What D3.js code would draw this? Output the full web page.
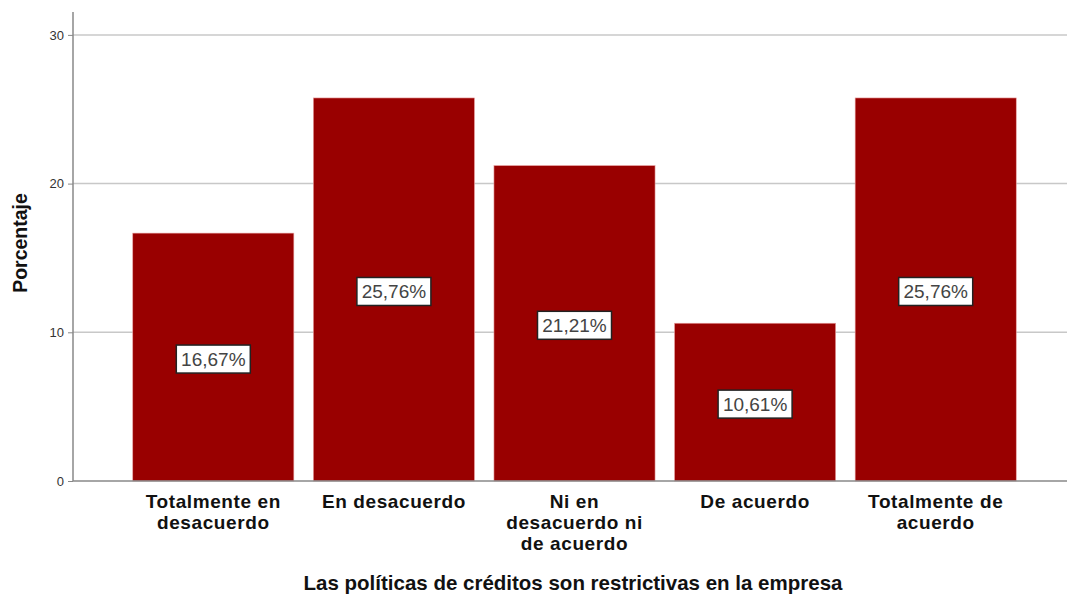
<!DOCTYPE html>
<html>
<head>
<meta charset="utf-8">
<script src="https://cdn.jsdelivr.net/npm/d3@7"></script>
<style>
  html, body { margin: 0; padding: 0; background: #fff; }
  svg { display: block; font-family: "Liberation Sans", Arial, sans-serif; }
</style>
</head>
<body>
<svg id="chart" width="1067" height="596"></svg>
<script>
// Response categories (each entry holds the wrapped lines of the label)
const categories = [
  ["Totalmente en", "desacuerdo"],
  ["En desacuerdo"],
  ["Ni en", "desacuerdo ni", "de acuerdo"],
  ["De acuerdo"],
  ["Totalmente de", "acuerdo"]
];
const percentages = [16.67, 25.76, 21.21, 10.61, 25.76];
const yTicks = [0, 10, 20, 30];
const yTitle = "Porcentaje";
const xTitle = "Las políticas de créditos son restrictivas en la empresa";

const svg = d3.select("#chart");
const plotLeft = 73, plotRight = 1067, plotTop = 12, plotBottom = 481;

const keys = categories.map(c => c.join(" "));
const x = d3.scaleBand()
  .domain(keys)
  .range([123, 1026])
  .paddingInner(0.108)
  .paddingOuter(0.054);

const y = d3.scaleLinear().domain([0, 30]).range([plotBottom, plotBottom - 30 * 14.87]);

// Grid lines
svg.append("g")
  .selectAll("line")
  .data(yTicks.filter(t => t > 0))
  .join("line")
  .attr("x1", plotLeft).attr("x2", plotRight)
  .attr("y1", d => y(d)).attr("y2", d => y(d))
  .attr("stroke", "#c8c8c8").attr("stroke-width", 1.5);

// Y axis
const yAxis = svg.append("g")
  .attr("transform", `translate(${plotLeft},0)`)
  .call(d3.axisLeft(y).tickValues(yTicks).tickSize(5).tickPadding(4));
yAxis.select(".domain").remove();
yAxis.selectAll(".tick line").attr("stroke", "#888");
yAxis.selectAll(".tick text")
  .attr("fill", "#333")
  .style("font-size", "13px")
  .style("font-family", "Liberation Sans, Arial, sans-serif");
svg.append("line")
  .attr("x1", plotLeft).attr("x2", plotLeft)
  .attr("y1", plotTop).attr("y2", plotBottom)
  .attr("stroke", "#888").attr("stroke-width", 1.5);

// Bars
const data = keys.map((k, i) => ({ key: k, lines: categories[i], value: percentages[i] }));
svg.append("g")
  .selectAll("rect")
  .data(data)
  .join("rect")
  .attr("x", d => x(d.key))
  .attr("y", d => y(d.value))
  .attr("width", x.bandwidth())
  .attr("height", d => y(0) - y(d.value))
  .attr("fill", "#990000")
  .attr("stroke", "#e8a0a0")
  .attr("stroke-width", 0.6);

// X axis baseline
svg.append("line")
  .attr("x1", plotLeft).attr("x2", plotRight)
  .attr("y1", plotBottom).attr("y2", plotBottom)
  .attr("stroke", "#888").attr("stroke-width", 1.5);

// Value labels in boxes
const labels = svg.append("g")
  .selectAll("g")
  .data(data)
  .join("g")
  .attr("transform", d => `translate(${x(d.key) + x.bandwidth() / 2},${(y(d.value) + y(0)) / 2 + 2})`);
labels.append("rect")
  .attr("x", -37).attr("y", -14)
  .attr("width", 74).attr("height", 28)
  .attr("fill", "#fff")
  .attr("stroke", "#222").attr("stroke-width", 1.5);
labels.append("text")
  .attr("text-anchor", "middle")
  .attr("dy", "0.36em")
  .attr("fill", "#444")
  .style("font-size", "19px")
  .text(d => d.value.toFixed(2).replace(".", ",") + "%");

// Category labels
const cat = svg.append("g")
  .selectAll("text")
  .data(data)
  .join("text")
  .attr("text-anchor", "middle")
  .attr("fill", "#111")
  .style("font-size", "19px")
  .style("letter-spacing", "0.6px")
  .style("font-weight", "bold")
  .attr("transform", d => `translate(${x(d.key) + x.bandwidth() / 2},508)`);
cat.selectAll("tspan")
  .data(d => d.lines)
  .join("tspan")
  .attr("x", 0)
  .attr("dy", (d, i) => i === 0 ? 0 : 21)
  .text(d => d);

// Axis titles
svg.append("text")
  .attr("text-anchor", "middle")
  .attr("fill", "#111")
  .style("font-size", "19.5px")
  .style("font-weight", "bold")
  .attr("transform", "translate(27,243) rotate(-90)")
  .text(yTitle);

svg.append("text")
  .attr("x", 573).attr("y", 590)
  .attr("text-anchor", "middle")
  .attr("fill", "#111")
  .style("font-size", "20.5px")
  .style("font-weight", "bold")
  .text(xTitle);
</script>
</body>
</html>
